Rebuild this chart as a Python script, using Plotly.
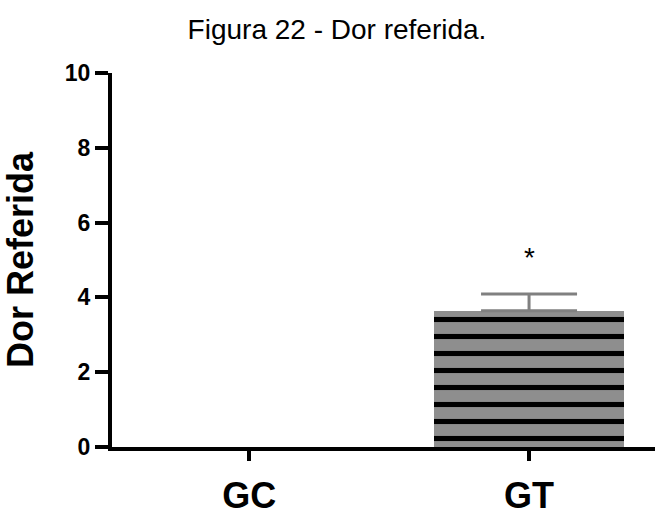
import plotly.graph_objects as go

# Dor referida por grupo (média e erro padrão)
grupos = ["GC", "GT"]
dor_media = [0.0, 3.64]
dor_erro = [0.0, 0.45]
signif_y = [None, 5.08]
signif_txt = ["", "*"]
y_ticks = [0, 2, 4, 6, 8, 10]

fig = go.Figure()

fig.add_trace(go.Bar(
    x=grupos,
    y=dor_media,
    width=0.68,
    marker=dict(
        color="#8e8e8e",
        line=dict(width=0),
        pattern=dict(shape=["", "-"], fgcolor="black", bgcolor="#8e8e8e",
                     size=17, solidity=0.3, fillmode="replace"),
    ),
    showlegend=False,
    hoverinfo="skip",
))

# upper whisker only, for groups with non-zero dispersion
idx = [i for i, e in enumerate(dor_erro) if e > 0]
fig.add_trace(go.Scatter(
    x=[grupos[i] for i in idx],
    y=[dor_media[i] for i in idx],
    mode="markers",
    marker=dict(size=0.1, opacity=0),
    error_y=dict(type="data", array=[dor_erro[i] for i in idx], symmetric=False,
                 arrayminus=[0] * len(idx),
                 color="#808080", thickness=3, width=48, visible=True),
    showlegend=False,
    hoverinfo="skip",
))

for g, yv, t in zip(grupos, signif_y, signif_txt):
    if yv is not None:
        fig.add_annotation(x=g, y=yv, text=t, showarrow=False,
                           font=dict(family="Liberation Sans", size=28, color="black"))

fig.update_layout(
    width=659, height=520,
    margin=dict(l=112, r=4, t=73, b=73),
    plot_bgcolor="white", paper_bgcolor="white",
    bargap=0,
    title=dict(text="Figura 22 - Dor referida.", x=337 / 659, xref="container", xanchor="center",
               y=1 - 29 / 520, yref="container", yanchor="middle",
               font=dict(family="Liberation Sans", size=28, color="black")),
    font=dict(family="Liberation Sans", color="black"),
)

fig.update_xaxes(
    range=[-0.49, 1.45],
    automargin=False,
    showline=True, linecolor="black", linewidth=4,
    ticks="outside", ticklen=10, tickwidth=4, tickcolor="black",
    ticklabelstandoff=4,
    tickfont=dict(family="Liberation Sans", size=36, color="black", weight="bold"),
    showgrid=False, zeroline=False,
)

fig.update_yaxes(
    range=[0, 10],
    automargin=False,
    tickvals=y_ticks,
    showline=True, linecolor="black", linewidth=4,
    ticks="outside", ticklen=13, tickwidth=4, tickcolor="black",
    ticklabelstandoff=0,
    tickfont=dict(family="Liberation Sans", size=23, color="black", weight="bold"),
    title=dict(text="Dor Referida", standoff=22,
               font=dict(family="Liberation Sans", size=36, color="black", weight="bold")),
    showgrid=False, zeroline=False,
)

fig.write_html("out.html")
